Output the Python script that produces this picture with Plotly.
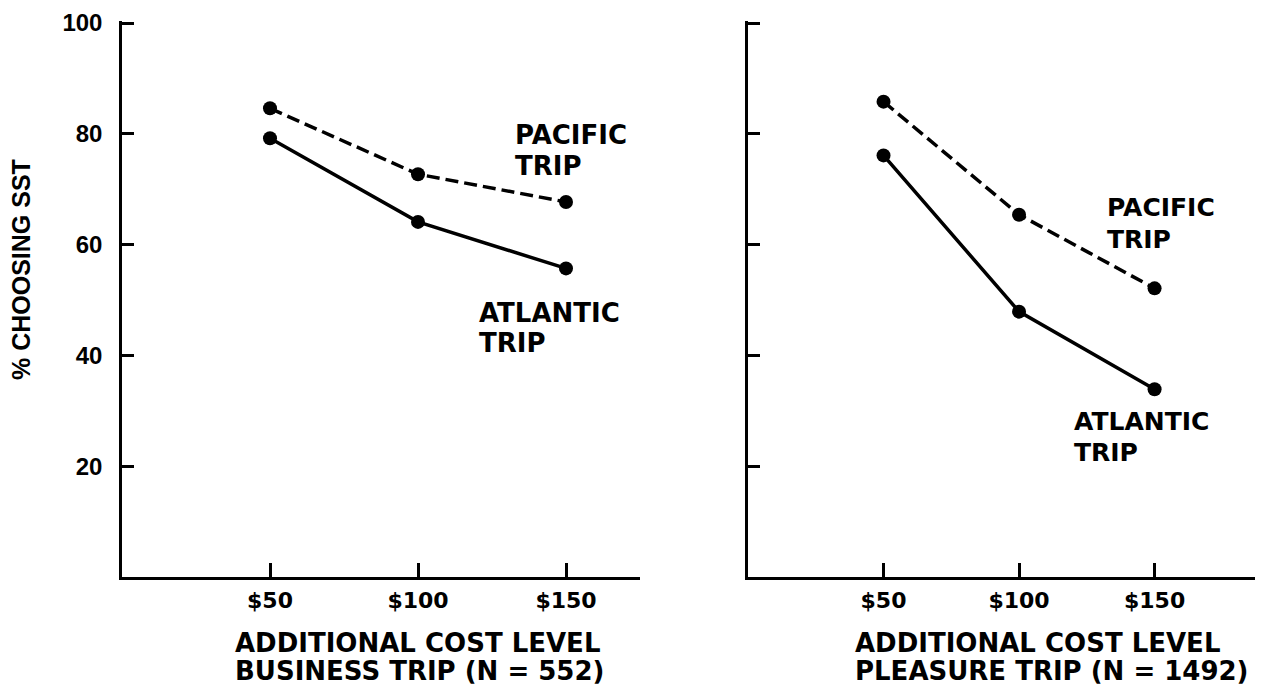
import plotly.graph_objects as go

# Page body adds an 8px margin; size figure so the page fits the 1263x694 window
OFF = 8
W, H = 1263 - 2 * OFF, 694 - 2 * OFF

cost_levels = [50, 100, 150]
x_tick_labels = ["$50", "$100", "$150"]
y_ticks = [20, 40, 60, 80, 100]

business_pacific = [84.6, 72.7, 67.7]
business_atlantic = [79.2, 64.1, 55.7]
pleasure_pacific = [85.8, 65.4, 52.1]
pleasure_atlantic = [76.1, 47.9, 33.9]


def fx(rx):
    return (rx - OFF) / W


def fy(ry):
    return 1 - (ry - OFF) / H


fig = go.Figure()

line_w = 3.5
mk = dict(size=14, color="black")
dash = "13px,6px"

fig.add_trace(go.Scatter(x=cost_levels, y=business_pacific, mode="lines+markers",
                         line=dict(color="black", width=line_w, dash=dash),
                         marker=mk, xaxis="x", yaxis="y", showlegend=False))
fig.add_trace(go.Scatter(x=cost_levels, y=business_atlantic, mode="lines+markers",
                         line=dict(color="black", width=line_w),
                         marker=mk, xaxis="x", yaxis="y", showlegend=False))
fig.add_trace(go.Scatter(x=cost_levels, y=pleasure_pacific, mode="lines+markers",
                         line=dict(color="black", width=line_w, dash=dash),
                         marker=mk, xaxis="x2", yaxis="y2", showlegend=False))
fig.add_trace(go.Scatter(x=cost_levels, y=pleasure_atlantic, mode="lines+markers",
                         line=dict(color="black", width=line_w),
                         marker=mk, xaxis="x2", yaxis="y2", showlegend=False))

# 0 at ref y=577, 100 at ref y=23; extend range slightly above 100 so the top tick shows
Y0, Y100 = 577, 23
px_per_unit = (Y0 - Y100) / 100
y_top = 100.4
ydom = [fy(Y0), fy(Y100 - (y_top - 100) * px_per_unit)]

xaxis_common = dict(
    automargin=False,
    showgrid=False, zeroline=False, showline=True, linecolor="black", linewidth=2.5,
    ticks="inside", ticklen=14, tickwidth=2.5, tickcolor="black",
    tickvals=cost_levels, ticktext=x_tick_labels,
    tickfont=dict(family="DejaVu Sans", size=22, color="black", weight="bold"),
    ticklabelstandoff=2, ticklabeloverflow="allow",
)
yaxis_common = dict(
    automargin=False,
    showgrid=False, zeroline=False, showline=True, linecolor="black", linewidth=2.5,
    ticks="inside", ticklen=12, tickwidth=2.5, tickcolor="black",
    tickvals=y_ticks, range=[0, y_top], domain=ydom,
    tickfont=dict(family="Liberation Sans", size=24, color="black", weight="bold"),
    ticklabelstandoff=12, ticklabeloverflow="allow",
)

# right panel: keep same px-per-unit as reference (515 px for 190 units)
right_px = W - (748 - OFF)
right_max = right_px / (515 / 190)

fig.update_layout(
    width=W, height=H,
    margin=dict(l=0, r=0, t=0, b=0, autoexpand=False),
    paper_bgcolor="white", plot_bgcolor="white",
    xaxis=dict(xaxis_common, domain=[fx(122), fx(640)], range=[0, 175], anchor="y"),
    yaxis=dict(yaxis_common, anchor="x"),
    xaxis2=dict(xaxis_common, domain=[fx(748), 1.0], range=[0, right_max], anchor="y2"),
    yaxis2=dict(yaxis_common, anchor="x2", showticklabels=False),
)

title_font = dict(family="DejaVu Sans", size=26, color="black", weight="bold")

# series labels, one line per annotation: (xref, yref, x, reference pixel row, text, size)
series_labels = [
    ("x", "y", 132.1, 135, "PACIFIC", 26),
    ("x", "y", 132.1, 166, "TRIP", 26),
    ("x", "y", 119.9, 312.5, "ATLANTIC", 26),
    ("x", "y", 119.9, 342.5, "TRIP", 26),
    ("x2", "y2", 131.7, 207.5, "PACIFIC", 25),
    ("x2", "y2", 131.7, 239, "TRIP", 25),
    ("x2", "y2", 119.5, 421, "ATLANTIC", 25),
    ("x2", "y2", 119.5, 452, "TRIP", 25),
]
for xr, yr, xv, ry, txt, sz in series_labels:
    fig.add_annotation(xref=xr, yref=yr, x=xv, y=(Y0 - ry) / px_per_unit, text=txt,
                       showarrow=False, xanchor="left", yanchor="middle", align="left",
                       font=dict(family="DejaVu Sans", size=sz, color="black", weight="bold"))

x_titles = [
    (233, "ADDITIONAL COST LEVEL", "BUSINESS TRIP (N = 552)"),
    (853, "ADDITIONAL COST LEVEL", "PLEASURE TRIP (N = 1492)"),
]
for px, l1, l2 in x_titles:
    fig.add_annotation(xref="paper", yref="paper", x=fx(px), y=fy(643), text=l1,
                       showarrow=False, xanchor="left", yanchor="middle", font=title_font)
    fig.add_annotation(xref="paper", yref="paper", x=fx(px), y=fy(671), text=l2,
                       showarrow=False, xanchor="left", yanchor="middle", font=title_font)

fig.add_annotation(xref="paper", yref="paper", x=fx(21), y=fy(270),
                   text="% CHOOSING SST", textangle=-90, showarrow=False,
                   xanchor="center", yanchor="middle",
                   font=dict(family="Liberation Sans", size=25, color="black", weight="bold"))

fig.write_html("out.html")
